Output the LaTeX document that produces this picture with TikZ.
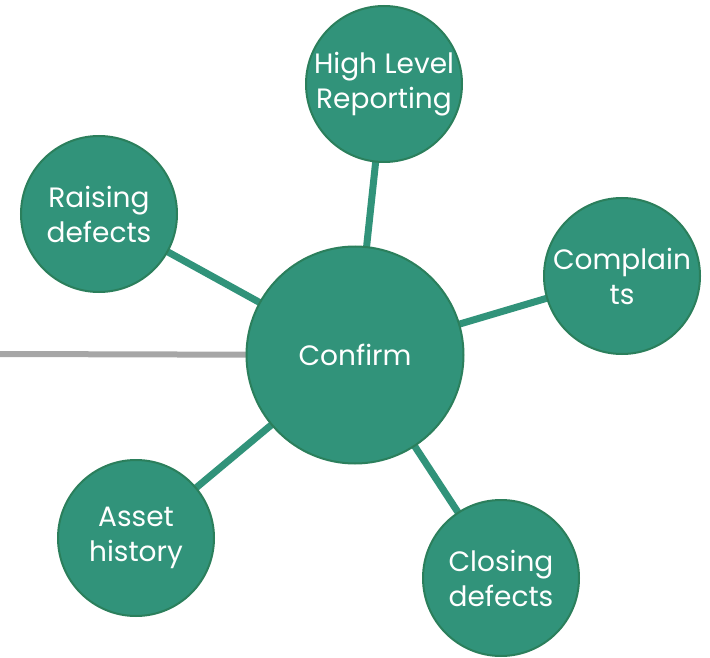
\documentclass[tikz,border=0pt]{standalone}
\usepackage{fontspec}
\setmainfont{Poppins}
\usetikzlibrary{backgrounds}
\definecolor{tealfill}{HTML}{31937A}
\definecolor{tealedge}{HTML}{2B7F5C}
\definecolor{greyline}{HTML}{A6A6A6}
\tikzset{
  hub/.style={circle, fill=tealfill, draw=tealedge, line width=2pt, inner sep=0pt,
    minimum size=217pt, text=white, align=center, font=\fontsize{28}{35}\selectfont},
  spoke/.style={circle, fill=tealfill, draw=tealedge, line width=2pt, inner sep=0pt,
    minimum size=156pt, text=white, align=center, font=\fontsize{28}{35}\selectfont},
  link/.style={draw=tealfill, line width=7pt},
  greylink/.style={draw=greyline, line width=6pt}
}
\begin{document}
\begin{tikzpicture}[x=1pt,y=-1pt]
\useasboundingbox (0,0) rectangle (710,658);
\node[hub] (c) at (355,355) {Confirm};
\node[spoke] (hl) at (384,84) {\raisebox{-4pt}{High Level}\\\raisebox{-4pt}{Reporting}};
\node[spoke] (rd) at (99,214) {Raising\\defects};
\node[spoke] (cp) at (622,276) {Complain\\ts};
\node[spoke] (ah) at (136,538) {Asset\\history};
\node[spoke] (cd) at (501,578) {Closing\\defects};
\coordinate (g) at (0,354);
\begin{scope}[on background layer]
\draw[link] (c.center) -- (hl.center);
\draw[link] (c.center) -- (rd.center);
\draw[link] (c.center) -- (cp.center);
\draw[link] (c.center) -- (ah.center);
\draw[link] (c.center) -- (cd.center);
\draw[greylink] (g) -- (c.center);
\end{scope}
\end{tikzpicture}
\end{document}
